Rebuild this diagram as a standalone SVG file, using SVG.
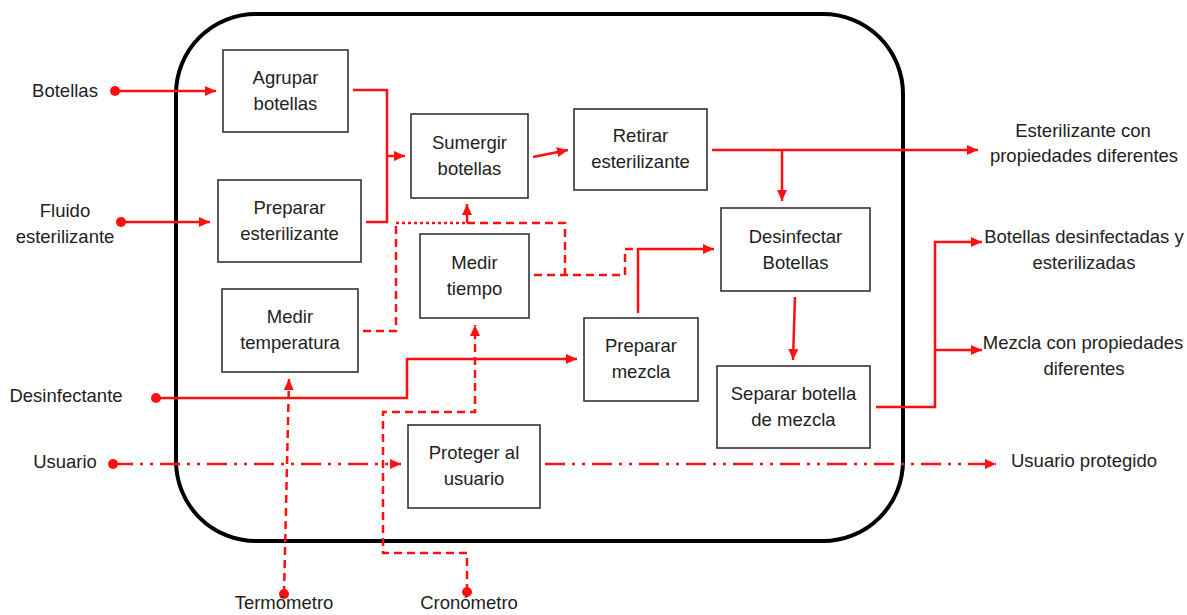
<svg xmlns="http://www.w3.org/2000/svg" width="1187" height="615" viewBox="0 0 1187 615">
<style>
text{font-family:"Liberation Sans",Arial,sans-serif;font-size:18.5px;fill:#222;text-anchor:middle}
.box{fill:#fff;stroke:#333;stroke-width:1.6}
.c{fill:none;stroke:#ff1010;stroke-width:2.5}
.d{stroke-dasharray:8 5}
.dt{stroke-dasharray:3 3}
.dd{stroke-dasharray:20 7 3 7 3 7}
</style>
<defs>
<marker id="ar" markerUnits="userSpaceOnUse" markerWidth="12" markerHeight="12" refX="11" refY="6" orient="auto"><path d="M0,1 L11,6 L0,11 z" fill="#ff1010"/></marker>
<marker id="dot" markerUnits="userSpaceOnUse" markerWidth="12" markerHeight="12" refX="6" refY="6"><circle cx="6" cy="6" r="5" fill="#ff1010"/></marker>
</defs>
<rect x="176" y="14" width="727" height="527" rx="80" ry="80" fill="none" stroke="#000" stroke-width="4"/>

<g id="connectors">
<path class="c" d="M115,91 H216" marker-start="url(#dot)" marker-end="url(#ar)"/>
<path class="c" d="M121,222 H210" marker-start="url(#dot)" marker-end="url(#ar)"/>
<path class="c" d="M353,90 H387 V222 H366"/>
<path class="c" d="M387,156 H405" marker-end="url(#ar)"/>
<path class="c" d="M533,157 L568,150" marker-end="url(#ar)"/>
<path class="c" d="M712,150 H978" marker-end="url(#ar)"/>
<path class="c" d="M782,150 V201" marker-end="url(#ar)"/>
<path class="c" d="M795,297 L793,360" marker-end="url(#ar)"/>
<path class="c" d="M876,407 H935 V242 H982" marker-end="url(#ar)"/>
<path class="c" d="M935,350 H982" marker-end="url(#ar)"/>
<path class="c" d="M156,398 H407 V359 H577" marker-start="url(#dot)" marker-end="url(#ar)"/>
<path class="c" d="M638,313 V249 H714" marker-end="url(#ar)"/>
<path class="c dd" d="M113,464 H401" marker-start="url(#dot)" marker-end="url(#ar)"/>
<path class="c dd" d="M545,464 H996" marker-end="url(#ar)"/>
<path class="c d" d="M284,594 L289,379" marker-start="url(#dot)" marker-end="url(#ar)"/>
<path class="c d" d="M467,592 V553 H383 V412 H475 V325" marker-start="url(#dot)" marker-end="url(#ar)"/>
<path class="c d" d="M363,331 H396 V223"/>
<path class="c dt" d="M396,223 H467"/>
<path class="c" d="M467,223 V204" marker-end="url(#ar)"/>
<path class="c d" d="M467,223 H565 V275"/>
<path class="c d" d="M534,275 H625 V249 H638"/>
</g>

<g id="agrupar"><rect class="box" x="223" y="50" width="125" height="82"/><text x="285.5" y="84">Agrupar</text><text x="285.5" y="110">botellas</text></g>
<g id="preparar-esterilizante"><rect class="box" x="218" y="180" width="143" height="82"/><text x="289.5" y="214">Preparar</text><text x="289.5" y="240">esterilizante</text></g>
<g id="medir-temperatura"><rect class="box" x="222" y="289" width="136" height="83"/><text x="290" y="323">Medir</text><text x="290" y="349">temperatura</text></g>
<g id="sumergir"><rect class="box" x="411" y="114" width="117" height="84"/><text x="469.5" y="149">Sumergir</text><text x="469.5" y="175">botellas</text></g>
<g id="retirar"><rect class="box" x="574" y="109" width="133" height="81"/><text x="640.5" y="142">Retirar</text><text x="640.5" y="168">esterilizante</text></g>
<g id="medir-tiempo"><rect class="box" x="420" y="234" width="109" height="84"/><text x="474.5" y="269">Medir</text><text x="474.5" y="295">tiempo</text></g>
<g id="desinfectar"><rect class="box" x="721" y="208" width="149" height="83"/><text x="795.5" y="243">Desinfectar</text><text x="795.5" y="269">Botellas</text></g>
<g id="preparar-mezcla"><rect class="box" x="584" y="318" width="114" height="83"/><text x="641" y="352">Preparar</text><text x="641" y="378">mezcla</text></g>
<g id="separar"><rect class="box" x="717" y="366" width="153" height="82"/><text x="793.5" y="400">Separar botella</text><text x="793.5" y="426">de mezcla</text></g>
<g id="proteger"><rect class="box" x="408" y="425" width="132" height="83"/><text x="474" y="459">Proteger al</text><text x="474" y="485">usuario</text></g>

<g id="inputs">
<text x="65" y="97">Botellas</text>
<text x="65" y="217">Fluido</text>
<text x="65" y="243">esterilizante</text>
<text x="66" y="402">Desinfectante</text>
<text x="65" y="468">Usuario</text>
<text x="284" y="609">Termómetro</text>
<text x="469" y="609">Cronómetro</text>
</g>
<g id="outputs">
<text x="1083" y="137">Esterilizante con</text>
<text x="1084" y="162">propiedades diferentes</text>
<text x="1084" y="243">Botellas desinfectadas y</text>
<text x="1084" y="269">esterilizadas</text>
<text x="1083" y="349">Mezcla con propiedades</text>
<text x="1084" y="375">diferentes</text>
<text x="1084" y="467">Usuario protegido</text>
</g>
</svg>
